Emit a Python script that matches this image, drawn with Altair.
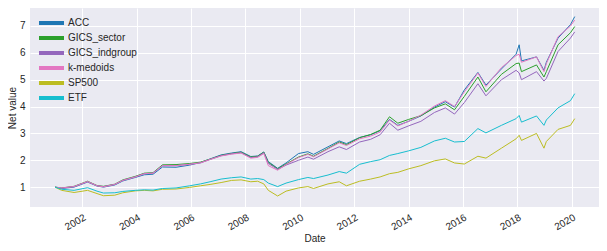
import altair as alt
import pandas as pd

dates = [
    "2001-01-02", "2001-04-01", "2001-09-15", "2002-03-15", "2002-07-20", "2002-10-15",
    "2003-03-15", "2003-07-01", "2003-12-15", "2004-04-15", "2004-08-10", "2004-12-15",
    "2005-06-15", "2005-12-15", "2006-05-10", "2006-09-15", "2007-02-10", "2007-07-01",
    "2007-11-05", "2008-03-15", "2008-06-15", "2008-09-05", "2008-11-05", "2009-03-10",
    "2009-07-01", "2009-12-15", "2010-04-20", "2010-07-05", "2011-01-15", "2011-06-15",
    "2011-09-20", "2012-03-15", "2012-08-10", "2012-12-15", "2013-04-20", "2013-08-10",
    "2014-01-01", "2014-06-15", "2014-12-15", "2015-05-10", "2015-09-10", "2016-01-20",
    "2016-07-20", "2016-11-05", "2017-06-01", "2017-12-15", "2018-01-25", "2018-02-25",
    "2018-09-15", "2018-12-24", "2019-01-25", "2019-07-01", "2019-12-15", "2020-02-10",
]

acc = [1.00, 0.95, 1.00, 1.19, 1.04, 1.00, 1.08, 1.23, 1.36, 1.46, 1.48, 1.75,
       1.74, 1.82, 1.92, 2.05, 2.20, 2.27, 2.32, 2.14, 2.16, 2.31, 1.95, 1.70,
       1.90, 2.25, 2.32, 2.22, 2.50, 2.72, 2.62, 2.85, 2.95, 3.10, 3.52, 3.30,
       3.45, 3.65, 3.98, 4.18, 3.98, 4.62, 5.27, 4.80, 5.40, 5.95, 6.30, 5.70,
       5.85, 5.35, 5.65, 6.55, 7.05, 7.35]
gics_sector = [1.00, 0.97, 1.03, 1.22, 1.06, 1.03, 1.11, 1.27, 1.40, 1.52, 1.54, 1.83,
               1.84, 1.88, 1.93, 2.04, 2.18, 2.25, 2.30, 2.12, 2.15, 2.30, 1.92, 1.68,
               1.86, 2.12, 2.24, 2.15, 2.44, 2.68, 2.58, 2.84, 2.96, 3.12, 3.62, 3.38,
               3.52, 3.66, 3.95, 4.10, 3.88, 4.38, 5.10, 4.55, 5.20, 5.60, 5.62, 5.30,
               5.55, 5.10, 5.30, 6.30, 6.75, 6.98]
gics_indgroup = [1.00, 0.96, 1.02, 1.20, 1.05, 1.02, 1.10, 1.25, 1.38, 1.50, 1.52, 1.80,
                 1.80, 1.85, 1.90, 2.03, 2.17, 2.24, 2.28, 2.10, 2.13, 2.28, 1.88, 1.66,
                 1.82, 2.00, 2.12, 2.04, 2.32, 2.50, 2.40, 2.68, 2.78, 2.95, 3.38, 3.12,
                 3.28, 3.45, 3.78, 3.95, 3.72, 4.15, 4.85, 4.40, 5.00, 5.35, 5.25, 5.00,
                 5.30, 4.95, 5.05, 6.05, 6.55, 6.78]
k_medoids = [1.00, 0.97, 1.02, 1.21, 1.05, 1.01, 1.10, 1.25, 1.38, 1.50, 1.52, 1.80,
             1.80, 1.85, 1.91, 2.03, 2.16, 2.23, 2.27, 2.08, 2.11, 2.25, 1.80, 1.63,
             1.84, 2.10, 2.22, 2.13, 2.42, 2.65, 2.55, 2.80, 2.90, 3.05, 3.50, 3.28,
             3.45, 3.68, 4.02, 4.22, 4.00, 4.55, 5.25, 4.75, 5.45, 5.90, 5.95, 5.65,
             5.85, 5.30, 5.60, 6.60, 7.00, 7.22]
sp500 = [1.00, 0.88, 0.80, 0.88, 0.76, 0.68, 0.70, 0.79, 0.86, 0.88, 0.86, 0.92,
         0.93, 0.99, 1.05, 1.10, 1.17, 1.25, 1.27, 1.20, 1.22, 1.12, 0.88, 0.67,
         0.85, 0.97, 1.02, 0.95, 1.12, 1.20, 1.05, 1.22, 1.30, 1.38, 1.50, 1.55,
         1.68, 1.80, 1.98, 2.05, 1.90, 1.86, 2.15, 2.08, 2.45, 2.80, 2.93, 2.74,
         3.00, 2.45, 2.70, 3.15, 3.30, 3.55]
etf = [1.00, 0.92, 0.88, 0.98, 0.85, 0.78, 0.79, 0.84, 0.88, 0.90, 0.89, 0.95,
       0.97, 1.05, 1.12, 1.20, 1.30, 1.35, 1.38, 1.30, 1.32, 1.28, 1.15, 1.02,
       1.15, 1.28, 1.36, 1.32, 1.45, 1.58, 1.52, 1.85, 1.95, 2.02, 2.18, 2.25,
       2.35, 2.48, 2.72, 2.82, 2.68, 2.70, 3.18, 3.02, 3.30, 3.55, 3.67, 3.42,
       3.65, 3.30, 3.50, 3.95, 4.22, 4.48]

series_names = ["ACC", "GICS_sector", "GICS_indgroup", "k-medoids", "SP500", "ETF"]
series_values = [acc, gics_sector, gics_indgroup, k_medoids, sp500, etf]
colors = ["#1f77b4", "#2ca02c", "#9467bd", "#e377c2", "#bcbd22", "#17becf"]
y_ticks = [1, 2, 3, 4, 5, 6, 7]
x_tick_years = list(range(2002, 2021, 2))

rows = []
for name, vals in zip(series_names, series_values):
    for d, v in zip(dates, vals):
        rows.append({"Date": d, "Net value": v, "series": name})
df = pd.DataFrame(rows)

FONT = "Liberation Sans"
TXT = "#262626"

chart = alt.Chart(df).mark_line(strokeWidth=1, clip=True).encode(
    x=alt.X(
        "Date:T",
        scale=alt.Scale(
            type="utc",
            domain=[alt.DateTime(year=2000, month=2, date=1, utc=True),
                    alt.DateTime(year=2021, month=1, date=1, utc=True)],
        ),
        axis=alt.Axis(
            values=[alt.DateTime(year=y, month=1, date=1, utc=True) for y in x_tick_years],
            labelExpr="utcFormat(datum.value, '%Y')",
            labelAngle=-30, labelAlign="right", labelBaseline="top",
            labelPadding=5, titlePadding=2, title="Date",
        ),
    ),
    y=alt.Y(
        "Net value:Q",
        scale=alt.Scale(domain=[0.26, 7.67], nice=False, zero=False),
        axis=alt.Axis(values=y_ticks, title="Net value", labelPadding=5, titlePadding=2),
    ),
    color=alt.Color(
        "series:N",
        sort=series_names,
        scale=alt.Scale(domain=series_names, range=colors),
        legend=alt.Legend(
            title=None, orient="none", legendX=14.5, legendY=8,
            symbolType="M-2.5,0L2.5,0", symbolSize=100, symbolStrokeWidth=4,
            symbolFillColor="transparent", labelOffset=9.5, rowPadding=-1.8,
            labelFont=FONT, labelFontSize=10, labelColor=TXT, padding=0,
        ),
    ),
).properties(
    width=569, height=199,
    autosize=alt.AutoSizeParams(type="none"),
    padding={"left": 22, "top": 0, "right": 0, "bottom": 36},
).configure_view(
    fill="#EAEAF2", stroke=None,
).configure_axis(
    domain=False, ticks=False, tickSize=0, grid=True, gridColor="white", gridWidth=1,
    labelFont=FONT, labelFontSize=10, labelColor=TXT,
    titleFont=FONT, titleFontSize=10, titleColor=TXT, titleFontWeight="normal",
)

chart.save("out.html", embed_options={"renderer": "svg", "actions": False})
